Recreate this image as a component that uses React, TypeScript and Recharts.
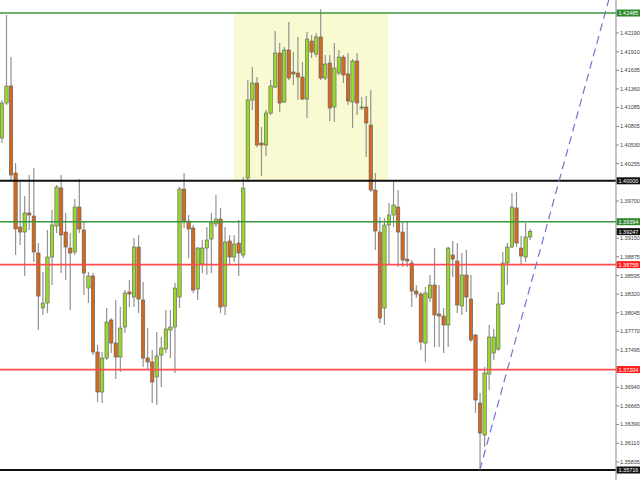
import React from "react"
import {
  ComposedChart,
  Bar,
  XAxis,
  YAxis,
  ReferenceLine,
  ReferenceArea,
} from "recharts"

// OHLC, one entry per candle (oldest first)
const opens = [
  1.40634, 1.41152, 1.41404, 1.40115, 1.39315, 1.39241, 1.39523, 1.39478, 1.3893, 1.38116,
  1.3819, 1.38871, 1.3933, 1.39893, 1.39241, 1.39004, 1.38945, 1.39612, 1.39271, 1.38412,
  1.3859, 1.37464, 1.36871, 1.37375, 1.37938, 1.37597, 1.3739, 1.37834, 1.38353, 1.38278,
  1.39019, 1.38234, 1.37375, 1.37316, 1.37094, 1.37419, 1.37508, 1.3779, 1.37834, 1.38278,
  1.39878, 1.39404, 1.39301, 1.38397, 1.38767, 1.39004, 1.39137, 1.3936, 1.39434, 1.38145,
  1.39108, 1.38871, 1.39078, 1.38901, 1.40041, 1.41196, 1.41448, 1.4056, 1.4053, 1.41004,
  1.41389, 1.41893, 1.41167, 1.41937, 1.41611, 1.41596, 1.41537, 1.41211, 1.4207, 1.41878,
  1.4213, 1.41522, 1.41745, 1.41093, 1.41596, 1.41833, 1.41582, 1.41167, 1.41774, 1.41078,
  1.41093, 1.40826, 1.39863, 1.39241, 1.38116, 1.39345, 1.39493, 1.39612, 1.39241, 1.38841,
  1.38782, 1.38367, 1.38323, 1.37597, 1.38264, 1.38456, 1.38027, 1.37997, 1.37864, 1.38901,
  1.38812, 1.38145, 1.38604, 1.38249, 1.37716, 1.36708, 1.36234, 1.37138, 1.37449, 1.37508,
  1.38175, 1.38782, 1.39019, 1.39597, 1.39004, 1.38871, 1.39167,
]
const highs = [
  1.41196, 1.42455, 1.41833, 1.40263, 1.39982, 1.39774, 1.40086, 1.40189, 1.39078, 1.38649,
  1.39271, 1.39567, 1.39937, 1.40086, 1.39523, 1.39226, 1.3973, 1.40026, 1.39389, 1.38649,
  1.38634, 1.37567, 1.37464, 1.38116, 1.37967, 1.38234, 1.3813, 1.38382, 1.3853, 1.39152,
  1.39197, 1.38501, 1.37819, 1.37493, 1.3776, 1.37686, 1.38086, 1.38086, 1.38486, 1.39908,
  1.40115, 1.39493, 1.39345, 1.39019, 1.39123, 1.39315, 1.39523, 1.39789, 1.39597, 1.39315,
  1.39197, 1.39197, 1.39419, 1.40056, 1.41493, 1.41685, 1.41537, 1.40797, 1.41048, 1.41493,
  1.42218, 1.42041, 1.41981, 1.42352, 1.41907, 1.4213, 1.41759, 1.42204, 1.42159, 1.42189,
  1.4254, 1.41863, 1.41863, 1.42041, 1.41937, 1.41863, 1.41893, 1.41804, 1.41893, 1.41241,
  1.41256, 1.41345, 1.40115, 1.39463, 1.39449, 1.39671, 1.40011, 1.39863, 1.39389, 1.39389,
  1.38827, 1.38456, 1.38353, 1.38427, 1.38604, 1.39004, 1.38456, 1.38116, 1.39019, 1.39108,
  1.39078, 1.3893, 1.38975, 1.38604, 1.3773, 1.36857, 1.37242, 1.37864, 1.37805, 1.38353,
  1.38945, 1.39078, 1.39819, 1.39834, 1.39182, 1.39375, 1.39286,
]
const lows = [
  1.4056, 1.41122, 1.40011, 1.38901, 1.39049, 1.3859, 1.39271, 1.38797, 1.3779, 1.38012,
  1.38042, 1.38456, 1.39226, 1.38634, 1.3853, 1.38086, 1.38901, 1.39226, 1.38308, 1.3819,
  1.37419, 1.36723, 1.36708, 1.37345, 1.37449, 1.37064, 1.37168, 1.37745, 1.3813, 1.3813,
  1.38042, 1.37242, 1.37197, 1.36708, 1.36679, 1.36945, 1.37449, 1.37375, 1.37153, 1.38116,
  1.39301, 1.38856, 1.38338, 1.38234, 1.38634, 1.38604, 1.38634, 1.39315, 1.38042, 1.38012,
  1.38752, 1.38797, 1.3859, 1.38856, 1.39982, 1.41048, 1.405, 1.40071, 1.40367, 1.40974,
  1.41374, 1.41019, 1.41152, 1.41493, 1.41419, 1.41196, 1.41196, 1.4093, 1.41819, 1.41833,
  1.41493, 1.41493, 1.40885, 1.40871, 1.41567, 1.41448, 1.41122, 1.40782, 1.40974, 1.41048,
  1.40352, 1.39834, 1.38975, 1.37893, 1.37864, 1.38752, 1.39315, 1.38723, 1.38723, 1.38723,
  1.3813, 1.38264, 1.37493, 1.37316, 1.38204, 1.37538, 1.37538, 1.37449, 1.37538, 1.38575,
  1.38042, 1.38012, 1.38056, 1.37612, 1.3656, 1.35716, 1.36057, 1.36901, 1.37345, 1.37479,
  1.3816, 1.38456, 1.39004, 1.39019, 1.38767, 1.38797, 1.39123,
]
const closes = [
  1.41152, 1.41404, 1.40086, 1.39286, 1.39241, 1.39523, 1.39493, 1.38945, 1.38293, 1.3819,
  1.38871, 1.39345, 1.39908, 1.39197, 1.39019, 1.3893, 1.39612, 1.39286, 1.38634, 1.3859,
  1.37464, 1.36871, 1.37375, 1.37908, 1.37597, 1.3739, 1.37819, 1.38338, 1.38323, 1.39019,
  1.38249, 1.37375, 1.37316, 1.37019, 1.37405, 1.37523, 1.37805, 1.37834, 1.38412, 1.39878,
  1.39389, 1.39286, 1.38382, 1.39004, 1.39004, 1.39123, 1.39375, 1.39434, 1.3813, 1.39093,
  1.38871, 1.39064, 1.3893, 1.39893, 1.41196, 1.41448, 1.4053, 1.4053, 1.41004, 1.41404,
  1.41893, 1.41152, 1.41937, 1.41522, 1.41582, 1.41537, 1.41211, 1.421, 1.41907, 1.4213,
  1.41522, 1.4173, 1.41078, 1.4167, 1.41833, 1.41567, 1.41182, 1.41774, 1.41152, 1.41093,
  1.40856, 1.39863, 1.39256, 1.37967, 1.39345, 1.39493, 1.39641, 1.39241, 1.38827, 1.38812,
  1.38367, 1.38323, 1.37612, 1.38338, 1.38456, 1.38012, 1.37997, 1.37864, 1.39004, 1.38841,
  1.3816, 1.38604, 1.38278, 1.37642, 1.36753, 1.36264, 1.37153, 1.37686, 1.37686, 1.38175,
  1.38782, 1.39019, 1.39612, 1.39078, 1.38886, 1.39167, 1.39247,
]

const priceTicks = [
  1.4219, 1.4191, 1.41635, 1.4136, 1.41085, 1.40805, 1.4053, 1.40255, 1.397, 1.3915,
  1.38875, 1.38595, 1.3832, 1.38045, 1.3777, 1.37495, 1.3694, 1.36665, 1.3639, 1.3611,
  1.35835,
]

// horizontal levels drawn on the chart
const resistanceTop = 1.42485
const roundLevel = 1.4
const resistanceMid = 1.39394
const supportHigh = 1.38758
const supportLow = 1.37204
const swingLow = 1.35716
const lastPrice = 1.39247

// highlighted consolidation box (candle index range) and trend line anchors
const boxStart = 51
const boxEnd = 84.9
const trendFrom = { x: 105, y: 1.35716 }
const trendTo = { x: 133.3, y: 1.42678 }

const data = opens.map((o, i) => ({
  i,
  open: o,
  high: highs[i],
  low: lows[i],
  close: closes[i],
}))

const BULL = "#9ad72c"
const BEAR = "#d2691e"
const FONT = "'Liberation Sans', Arial, sans-serif"

function Candle(props: any) {
  const { x, y, width, height, payload } = props
  if (!payload) return null
  const { open, close, high, low } = payload
  const top = Math.min(y, y + height)
  const h = Math.abs(height)
  const k = high > low ? h / (high - low) : 0
  const cx = x + width / 2
  const yO = top + (high - open) * k
  const yC = top + (high - close) * k
  const bTop = Math.min(yO, yC)
  const bH = Math.max(Math.abs(yO - yC), 1)
  return (
    <g>
      <line x1={cx} x2={cx} y1={top} y2={top + h} stroke="#929292" strokeWidth={1.2} />
      <rect
        x={cx - 1.7}
        y={bTop}
        width={3.4}
        height={bH}
        fill={close >= open ? BULL : BEAR}
        stroke="#5e5e5e"
        strokeWidth={0.6}
      />
    </g>
  )
}

function Tag(props: any) {
  const { viewBox, bg, text } = props
  if (!viewBox) return null
  const x = viewBox.x + viewBox.width
  const y = viewBox.y
  return (
    <g>
      <rect x={x + 0.5} y={y - 3.5} width={24} height={7} fill={bg} />
      <text x={x + 2.5} y={y + 2} fontSize={5.5} fill="#fff" fontFamily={FONT}>
        {text}
      </text>
    </g>
  )
}

export default function App() {
  return (
    <div style={{ position: "absolute", left: 0, top: 0, width: 640, height: 480, background: "#fff" }}>
      <ComposedChart width={640} height={480} data={data} margin={{ top: 0, right: 0, bottom: 0, left: 0 }}>
        <XAxis dataKey="i" type="number" domain={[-0.373, 134.9]} hide allowDataOverflow />
        <YAxis
          orientation="right"
          width={24}
          domain={[1.35568, 1.42678]}
          allowDataOverflow
          ticks={priceTicks}
          interval={0}
          tickSize={3}
          tickMargin={1}
          stroke="#8a8a8a"
          tick={{ fontSize: 5.5, fill: "#3a3a3a", fontFamily: FONT }}
          tickFormatter={(v: number) => v.toFixed(5)}
        />
        <ReferenceArea
          x1={boxStart}
          x2={boxEnd}
          y1={roundLevel}
          y2={resistanceTop}
          fill="#fafad2"
          fillOpacity={1}
          stroke="none"
        />
        <Bar
          dataKey={(d: any) => [d.low, d.high]}
          barSize={3}
          shape={<Candle />}
          isAnimationActive={false}
        />
        <ReferenceLine y={resistanceTop} stroke="#3b963b" strokeWidth={1.4}
          label={<Tag bg="#2f8a2f" text={resistanceTop.toFixed(5)} />} />
        <ReferenceLine y={roundLevel} stroke="#111" strokeWidth={2}
          label={<Tag bg="#111" text={roundLevel.toFixed(5)} />} />
        <ReferenceLine y={resistanceMid} stroke="#3b963b" strokeWidth={1.4}
          label={<Tag bg="#2f8a2f" text={resistanceMid.toFixed(5)} />} />
        <ReferenceLine y={lastPrice} stroke="transparent"
          label={<Tag bg="#111" text={lastPrice.toFixed(5)} />} />
        <ReferenceLine y={supportHigh} stroke="#ff4d4d" strokeWidth={1.7}
          label={<Tag bg="#ff1e1e" text={supportHigh.toFixed(5)} />} />
        <ReferenceLine y={supportLow} stroke="#ff4d4d" strokeWidth={1.7}
          label={<Tag bg="#ff1e1e" text={supportLow.toFixed(5)} />} />
        <ReferenceLine y={swingLow} stroke="#111" strokeWidth={2}
          label={<Tag bg="#111" text={swingLow.toFixed(5)} />} />
        <ReferenceLine
          segment={[trendFrom, trendTo]}
          stroke="#7373d2"
          strokeWidth={1.2}
          strokeDasharray="8 5"
          ifOverflow="visible"
        />
      </ComposedChart>
    </div>
  )
}
